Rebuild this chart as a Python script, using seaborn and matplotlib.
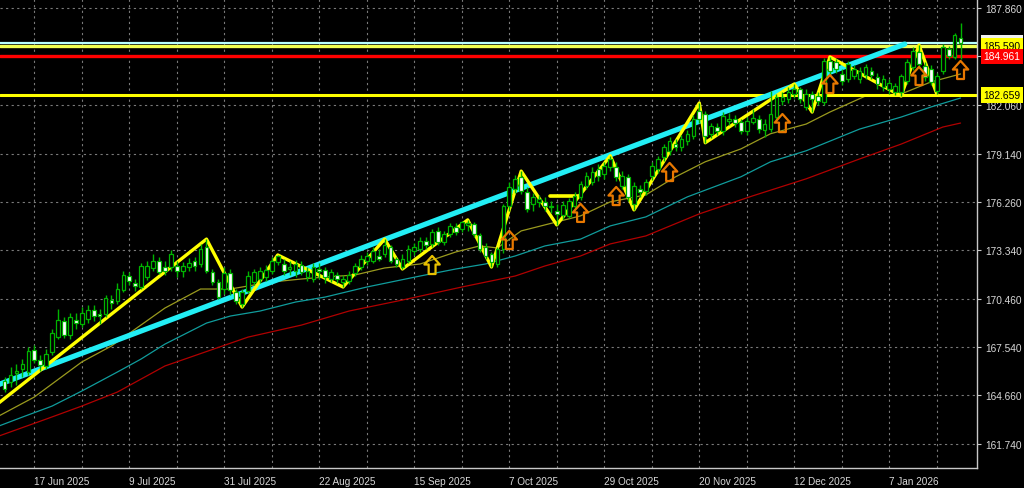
import numpy as np
import matplotlib
matplotlib.use("Agg")
import matplotlib.pyplot as plt
import matplotlib.transforms as mtransforms
from matplotlib.path import Path
import seaborn as sns

# Daily bars, bar 0 = first bar visible on the left edge
opens = [
    165.52, 165.46, 166.00, 166.24, 166.06, 167.38, 166.78, 166.42, 167.26, 168.15,
    169.11, 168.27, 169.17, 168.93, 169.23, 169.77, 169.53, 169.53, 170.37, 170.31,
    170.97, 171.81, 171.39, 171.15, 171.75, 172.29, 172.71, 172.35, 172.35, 172.41,
    172.11, 172.35, 172.71, 172.53, 173.55, 172.05, 171.45, 171.03, 171.99, 170.85,
    170.13, 170.91, 171.45, 171.63, 171.75, 172.11, 172.65, 172.53, 172.23, 172.11,
    172.47, 171.75, 171.63, 172.23, 172.17, 171.63, 171.87, 171.45, 171.51, 171.99,
    172.35, 172.71, 172.71, 173.01, 173.13, 173.55, 172.83, 172.35, 172.71, 173.31,
    173.43, 173.91, 173.73, 174.51, 173.85, 174.33, 174.75, 174.63, 174.87, 174.93,
    174.27, 173.55, 173.13, 172.53, 173.43, 176.01, 177.03, 177.75, 176.85, 176.13,
    176.25, 176.25, 175.95, 175.71, 175.47, 175.41, 176.01, 176.55, 177.21, 177.45,
    178.23, 177.93, 178.35, 178.35, 177.21, 177.75, 176.13, 177.03, 176.91, 177.81,
    178.23, 178.95, 179.31, 179.73, 179.55, 179.91, 180.21, 181.71, 181.53, 180.33,
    180.75, 180.51, 181.11, 181.23, 181.05, 180.51, 181.05, 181.23, 180.57, 180.61,
    181.33, 182.29, 182.41, 182.71, 183.01, 181.93, 182.71, 182.59, 182.23, 184.69,
    184.63, 183.91, 183.61, 183.79, 183.61, 183.85, 184.09, 183.73, 183.13, 183.01,
    182.83, 182.83, 183.49, 184.33, 185.23, 184.39, 184.21, 182.89, 184.09, 185.41,
    184.93, 186.06,
]
highs = [
    165.76, 166.36, 166.54, 166.84, 167.55, 167.67, 167.08, 167.44, 168.63, 169.83,
    169.35, 169.59, 169.59, 169.95, 170.07, 170.07, 169.83, 170.67, 170.67, 171.39,
    172.11, 172.05, 171.63, 172.59, 172.71, 173.13, 172.95, 172.71, 173.37, 172.71,
    172.65, 172.89, 172.95, 173.73, 174.02, 172.23, 171.63, 172.35, 172.23, 171.03,
    171.03, 172.11, 172.23, 172.35, 172.47, 172.95, 173.07, 172.83, 172.71, 172.77,
    172.71, 172.35, 172.59, 172.59, 172.35, 172.23, 172.05, 171.87, 172.11, 172.59,
    173.07, 173.25, 173.55, 173.43, 174.02, 173.67, 172.95, 173.13, 173.67, 173.79,
    174.15, 174.15, 174.63, 174.75, 174.51, 174.99, 174.99, 175.11, 175.17, 175.05,
    174.39, 173.79, 173.25, 173.55, 176.13, 177.45, 177.87, 178.09, 177.15, 176.79,
    176.67, 176.55, 176.31, 176.13, 176.31, 176.49, 176.85, 177.51, 178.05, 178.35,
    178.53, 178.65, 179.01, 178.65, 178.11, 177.93, 177.45, 177.27, 177.63, 178.65,
    179.01, 179.73, 180.15, 180.03, 180.27, 180.57, 181.47, 182.17, 181.71, 180.99,
    180.99, 181.65, 181.59, 181.47, 181.23, 181.35, 181.83, 181.47, 181.23, 182.89,
    182.71, 182.83, 183.13, 183.31, 183.13, 183.01, 182.89, 182.83, 184.85, 184.93,
    184.81, 184.21, 184.69, 184.45, 184.33, 184.51, 184.33, 183.97, 183.85, 183.61,
    183.37, 183.91, 184.81, 185.53, 185.64, 184.63, 184.45, 183.97, 185.71, 185.59,
    186.36, 186.96,
]
lows = [
    164.86, 165.16, 165.28, 165.76, 165.88, 166.60, 166.12, 166.24, 167.08, 168.03,
    168.09, 168.03, 168.63, 168.75, 168.99, 169.11, 168.93, 169.35, 169.83, 170.13,
    170.85, 171.27, 170.91, 171.03, 171.57, 172.11, 171.93, 171.87, 172.11, 171.75,
    171.75, 172.11, 172.11, 172.35, 171.99, 171.27, 170.43, 170.73, 170.67, 170.13,
    169.95, 170.79, 171.27, 171.39, 171.51, 171.93, 172.47, 171.87, 171.87, 171.75,
    171.87, 171.51, 171.45, 171.63, 171.39, 171.45, 171.39, 171.15, 171.33, 171.81,
    172.17, 172.47, 172.59, 172.71, 172.95, 172.59, 172.35, 172.23, 172.59, 173.07,
    173.25, 173.43, 173.55, 173.67, 173.67, 174.15, 174.27, 174.45, 174.51, 174.15,
    173.25, 172.83, 172.35, 172.35, 173.19, 175.71, 176.79, 176.73, 175.65, 175.71,
    175.95, 175.71, 175.59, 174.87, 175.23, 175.29, 175.83, 176.37, 177.03, 177.27,
    177.51, 177.63, 178.11, 177.51, 177.03, 176.31, 175.77, 176.55, 176.67, 177.57,
    177.99, 178.71, 179.07, 179.31, 179.31, 179.67, 180.03, 180.99, 179.79, 180.09,
    180.27, 180.27, 180.87, 180.75, 180.33, 180.27, 180.93, 180.39, 180.15, 180.43,
    181.09, 182.05, 182.17, 182.47, 182.17, 181.75, 181.63, 182.05, 182.05, 183.91,
    183.97, 183.25, 183.43, 183.61, 183.37, 183.61, 183.61, 183.01, 182.89, 182.71,
    182.65, 182.59, 183.31, 184.15, 184.33, 183.49, 183.25, 182.71, 183.91, 184.81,
    184.81, 184.81,
]
closes = [
    165.04, 165.88, 166.12, 166.54, 167.32, 166.78, 166.48, 167.14, 168.39, 169.17,
    168.27, 169.35, 168.99, 169.59, 169.77, 169.41, 169.41, 170.49, 170.19, 171.03,
    171.87, 171.51, 171.21, 172.41, 172.41, 172.71, 172.05, 172.11, 173.13, 172.11,
    172.41, 172.59, 172.41, 173.43, 172.11, 171.45, 170.55, 171.99, 170.97, 170.31,
    170.85, 171.81, 172.05, 172.11, 172.17, 172.71, 173.01, 172.11, 172.35, 172.53,
    172.05, 172.11, 172.35, 172.11, 171.75, 172.05, 171.63, 171.63, 171.87, 172.41,
    172.83, 173.01, 173.31, 172.83, 173.67, 172.71, 172.53, 172.83, 173.43, 173.55,
    173.91, 173.67, 174.45, 173.85, 174.33, 174.81, 174.45, 175.05, 174.99, 174.33,
    173.43, 173.01, 172.65, 173.43, 176.01, 177.15, 177.63, 176.91, 175.83, 176.55,
    176.43, 176.01, 176.01, 175.53, 176.07, 176.31, 176.61, 177.33, 177.81, 178.05,
    177.81, 178.41, 178.83, 177.75, 177.81, 176.55, 177.21, 176.85, 177.45, 178.41,
    178.83, 179.55, 179.91, 179.55, 180.03, 180.33, 181.23, 181.23, 180.21, 180.81,
    180.51, 181.41, 181.23, 180.99, 180.51, 181.11, 181.29, 180.63, 180.93, 181.51,
    182.53, 182.53, 182.83, 183.01, 182.41, 182.71, 182.41, 182.29, 184.69, 184.09,
    184.21, 183.49, 184.51, 184.21, 184.09, 184.33, 183.85, 183.31, 183.61, 183.37,
    183.19, 183.79, 184.63, 185.29, 184.51, 183.73, 183.43, 183.79, 185.53, 184.99,
    186.24, 185.78,
]

date_ticks = [5, 21, 37, 53, 69, 85, 101, 117, 133, 149]
date_labels = ["17 Jun 2025", "9 Jul 2025", "31 Jul 2025", "22 Aug 2025", "15 Sep 2025",
               "7 Oct 2025", "29 Oct 2025", "20 Nov 2025", "12 Dec 2025", "7 Jan 2026"]
price_ticks = [161.740, 164.660, 167.540, 170.460, 173.340, 176.260,
               179.140, 182.060, 184.980, 187.860]
# 184.980 sits under the red price box in the reference, so its label is not shown
price_labels = ["161.740", "164.660", "167.540", "170.460", "173.340", "176.260",
                "179.140", "182.060", "", "187.860"]

# moving averages (read at knots along each line)
ma_fast_bars = [-1, 5, 13, 18, 22, 27, 33, 38, 45, 50, 54, 59, 64, 70, 76, 80,
                83, 87, 91, 97, 102, 108, 113, 118, 124, 129, 135, 139, 145, 151, 156, 161]
ma_fast_vals = [163.42, 164.56, 166.66, 167.62, 168.63, 169.89, 171.03, 171.03, 171.45, 171.63,
                171.75, 171.87, 172.29, 172.53, 173.25, 173.61, 173.49, 174.51, 174.87, 175.41,
                176.25, 176.67, 177.75, 178.65, 179.42, 180.33, 180.91, 181.63, 182.59, 182.71,
                183.43, 183.91]
ma_mid_bars = [-1, 3, 8, 13, 19, 23, 27, 34, 38, 43, 49, 54, 61, 70, 76, 81, 86, 91,
               97, 102, 108, 115, 124, 129, 135, 144, 151, 156, 161]
ma_mid_vals = [162.82, 163.36, 164.02, 164.92, 166.06, 166.84, 167.73, 168.99, 169.41, 169.71,
               170.25, 170.55, 171.15, 171.81, 172.23, 172.53, 173.01, 173.61, 174.02, 174.81,
               175.35, 176.55, 177.75, 178.65, 179.31, 180.61, 181.33, 181.93, 182.47]
ma_slow_bars = [-1, 7, 13, 19, 27, 41, 50, 58, 67, 77, 86, 91, 97, 102, 108, 117,
                126, 135, 144, 151, 158, 161]
ma_slow_vals = [162.22, 163.24, 164.02, 164.86, 166.42, 168.15, 168.87, 169.71, 170.37, 171.15,
                171.81, 172.41, 173.01, 173.73, 174.21, 175.53, 176.61, 177.63, 178.82, 179.71,
                180.73, 180.97]

# zigzag swing points
zigzag_bars = [-1, 34, 40, 46, 57, 64, 67, 78, 82, 87, 93, 102, 106, 117, 118,
               133, 136, 139, 151, 154, 157]
zigzag_vals = [164.20, 174.02, 169.95, 173.07, 171.15, 174.02, 172.23, 175.17, 172.35, 178.09,
               174.87, 179.01, 175.77, 182.17, 179.79, 183.31, 181.63, 184.93, 182.59, 185.64,
               182.71]

trend_bars = [-1.0, 151.6]
trend_vals = [165.31, 185.70]
short_line_bars = [91.8, 96.8]
short_line_val = 176.60

bid_level = 185.777
levels = [185.590, 184.961, 182.659]
arrow_bars = [72, 85, 97, 103, 112, 131, 139, 154, 161]
arrow_vals = [172.47, 173.97, 175.59, 176.60, 178.04, 180.97, 183.31, 183.79, 184.15]

sns.set_theme(style="dark", rc={"axes.facecolor": "black", "figure.facecolor": "black",
                                "axes.grid": False, "savefig.facecolor": "black"})
plt.rcParams["font.family"] = ["Liberation Sans", "DejaVu Sans"]

fig = plt.figure(figsize=(10.24, 4.89), dpi=100)
ax = fig.add_axes([0, 20 / 489, 977 / 1024, 469 / 489])
ax.set_facecolor("black")

grid_kw = dict(color="#7a7a7a", lw=0.8, ls=(0, (2, 3)), zorder=0)
for g in range(-3, 164, 8):
    ax.axvline(g, **grid_kw)
for p in price_ticks:
    ax.axhline(p, **grid_kw)

# moving averages
sns.lineplot(x=ma_slow_bars, y=ma_slow_vals, ax=ax, color="#b00000", lw=0.9, zorder=1)
sns.lineplot(x=ma_mid_bars, y=ma_mid_vals, ax=ax, color="#109c9c", lw=0.9, zorder=1)
sns.lineplot(x=ma_fast_bars, y=ma_fast_vals, ax=ax, color="#9a9a1e", lw=0.9, zorder=1)

# objects
ax.axhline(bid_level, color="#b8ffff", lw=1.6, zorder=2)
ax.axhline(levels[0], color="#f0ff50", lw=2.4, zorder=2)
ax.axhline(levels[1], color="#ff0000", lw=2.4, zorder=2)
ax.axhline(levels[2], color="#ffff00", lw=2.2, zorder=2)
sns.lineplot(x=trend_bars, y=trend_vals, ax=ax, color="#22eef5", lw=3.8, zorder=2)
sns.lineplot(x=zigzag_bars, y=zigzag_vals, ax=ax, color="#ffff00", lw=2.4, sort=False, zorder=3)
ax.plot(short_line_bars, [short_line_val] * 2, color="#ffff00", lw=2.6, zorder=3)

# candles
green = "#00b400"
bars = np.arange(len(closes))
o = np.array(opens)
c = np.array(closes)
ax.vlines(bars, lows, highs, color=green, lw=1.0, zorder=4)
body_low = np.minimum(o, c)
body_h = np.maximum(np.abs(c - o), 0.03)
faces = ["black" if cc >= oo else "white" for oo, cc in zip(o, c)]
ax.bar(bars, body_h, bottom=body_low, width=0.62, color=faces,
       edgecolor=green, linewidth=0.9, zorder=5)

# up arrows
arrow = Path([(0, 1), (-0.85, 0.05), (-0.38, 0.05), (-0.38, -1), (0.38, -1),
              (0.38, 0.05), (0.85, 0.05), (0, 1)],
             [Path.MOVETO] + [Path.LINETO] * 6 + [Path.CLOSEPOLY])
arrow_cols = ["#e8c000"] + ["#e87800"] * (len(arrow_bars) - 1)
ax.scatter(arrow_bars, arrow_vals, marker=arrow, s=170, facecolors="none",
           edgecolors=arrow_cols, linewidths=1.6, zorder=6)

ax.set_xlim(-0.775, 163.77)
ax.set_ylim(160.31, 188.40)

# axes, ticks and labels
for side in ["top", "left"]:
    ax.spines[side].set_visible(False)
for side in ["bottom", "right"]:
    ax.spines[side].set_visible(True)
    ax.spines[side].set_color("#c8c8c8")
    ax.spines[side].set_linewidth(1.0)

ax.yaxis.tick_right()
ax.set_yticks(price_ticks)
ax.set_yticklabels(price_labels)
ax.set_xticks(date_ticks)
ax.set_xticklabels(date_labels, ha="left")
ax.tick_params(axis="y", colors="#c8c8c8", labelcolor="#d8d8d8", labelsize=7.3,
               length=3, width=0.8, pad=3, direction="out")
ax.tick_params(axis="x", colors="#c8c8c8", labelcolor="#d8d8d8", labelsize=7.2,
               length=4, width=0.8, pad=2, direction="out")
ax.set_xlabel("")
ax.set_ylabel("")

trans = mtransforms.blended_transform_factory(ax.transAxes, ax.transData)
box_specs = [(bid_level, "#f0f0f0", "black"),
             (levels[0], "#ffff00", "black"),
             (levels[1], "#ff0000", "white"),
             (levels[2], "#ffff00", "black")]
for k, (val, fc, tc) in enumerate(box_specs):
    ax.text(1.0065, val, f"{val:.3f}", transform=trans, ha="left", va="center",
            fontsize=7.4, color=tc, clip_on=False, zorder=10 + k,
            bbox=dict(boxstyle="square,pad=0.27", fc=fc, ec="none"))

fig.savefig("out.png", dpi=100, facecolor="black")
